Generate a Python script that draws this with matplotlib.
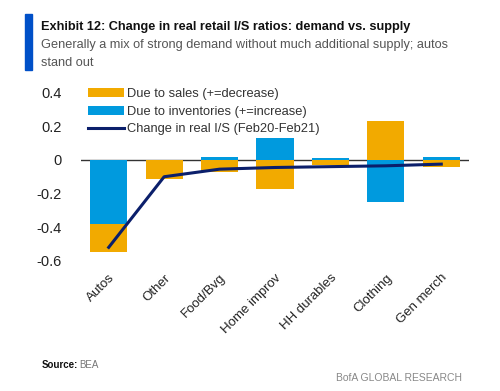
import numpy as np
import matplotlib
matplotlib.use("Agg")
import matplotlib.pyplot as plt
from matplotlib.patches import Rectangle

plt.rcParams['font.family'] = ['Liberation Sans', 'DejaVu Sans']

categories = ['Autos', 'Other', 'Food/Bvg', 'Home improv', 'HH durables', 'Clothing', 'Gen merch']
due_to_sales = [-0.17, -0.115, -0.07, -0.17, -0.03, 0.23, -0.04]
due_to_inventories = [-0.38, 0.0, 0.02, 0.13, 0.01, -0.25, 0.02]
change_is = [-0.52, -0.10, -0.055, -0.045, -0.04, -0.035, -0.025]

ORANGE = '#F2AA00'
BLUE = '#009ADE'
NAVY = '#0B1F6B'

fig = plt.figure(figsize=(5.0, 3.91), dpi=100)
ax = fig.add_axes([0.162, 0.333, 0.776, 0.43])

x = np.arange(len(categories))
w = 0.67
inv = np.array(due_to_inventories)
sal = np.array(due_to_sales)

# inventories sit next to zero, sales stacked beyond on each side
b_inv = ax.bar(x, inv, w, color=BLUE, zorder=2)
sal_bottom = np.where(np.sign(sal) == np.sign(inv), inv, 0.0)
b_sal = ax.bar(x, sal, w, bottom=sal_bottom, color=ORANGE, zorder=2)
ax.axhline(0, color='#333333', lw=1.0, zorder=1)
ln, = ax.plot(x, change_is, color=NAVY, lw=2.2, zorder=3)

ax.set_xlim(-0.5, len(x) - 0.5)
ax.set_ylim(-0.6, 0.4)
ax.set_yticks([-0.6, -0.4, -0.2, 0, 0.2, 0.4])
ax.set_yticklabels(['-0.6', '-0.4', '-0.2', '0', '0.2', '0.4'], fontsize=10.5, color='#222222')
ax.set_xticks(x)
ax.set_xticklabels(categories, rotation=45, ha='right', rotation_mode='anchor', fontsize=9.5, color='#222222')
ax.tick_params(length=0, pad=14, axis='y')
ax.tick_params(length=0, pad=8, axis='x')
for s in ax.spines.values():
    s.set_visible(False)

ax.legend([b_sal, b_inv, ln],
          ['Due to sales (+=decrease)', 'Due to inventories (+=increase)', 'Change in real I/S (Feb20-Feb21)'],
          loc='upper left', bbox_to_anchor=(0.005, 1.06),
          frameon=False, fontsize=9.3, handlelength=2.75, handleheight=0.7, labelspacing=0.45,
          handletextpad=0.25, borderaxespad=0.0, labelcolor='#333333')

fig.patches.append(Rectangle((0.05, 0.82), 0.014, 0.145, transform=fig.transFigure,
                             color='#0050C8', zorder=5))
fig.text(0.082, 0.93, 'Exhibit 12: Change in real retail I/S ratios: demand vs. supply',
         fontsize=9.2, fontweight='bold', color='#111111', va='center')
fig.text(0.082, 0.885, 'Generally a mix of strong demand without much additional supply; autos',
         fontsize=9.2, color='#555555', va='center')
fig.text(0.082, 0.838, 'stand out', fontsize=9.2, color='#555555', va='center')

fig.text(0.083, 0.066, 'Source:', fontsize=7, fontweight='bold', color='#111111', va='center')
fig.text(0.158, 0.066, 'BEA', fontsize=7, color='#777777', va='center')
fig.text(0.925, 0.033, 'BofA GLOBAL RESEARCH', fontsize=7.5, color='#888888', va='center', ha='right')

fig.savefig('out.png', dpi=100)
